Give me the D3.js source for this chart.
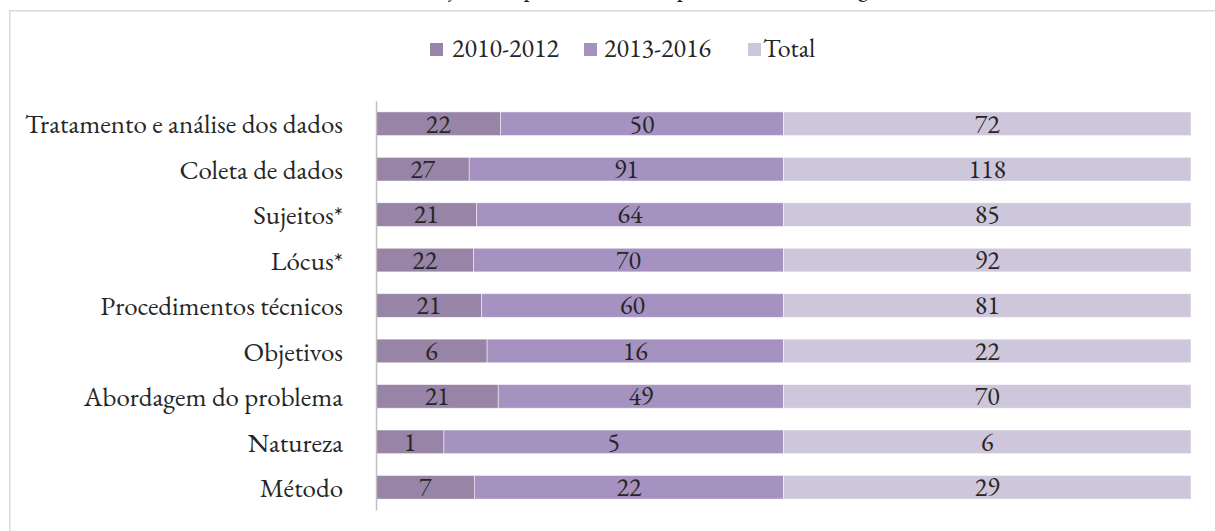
<!DOCTYPE html>
<html>
<head>
<meta charset="utf-8">
<script src="https://cdn.jsdelivr.net/npm/d3@7"></script>
<style>
  html, body { margin: 0; padding: 0; background: #fff; }
  svg { display: block; }
  text { font-family: "EB Garamond", Garamond, "Liberation Serif", "DejaVu Serif", serif; fill: #262626; }
</style>
</head>
<body>
<div id="chart"></div>
<script>
const WIDTH = 1215;
const HEIGHT = 531;

const categories = [
  "Tratamento e análise dos dados",
  "Coleta de dados",
  "Sujeitos*",
  "Lócus*",
  "Procedimentos técnicos",
  "Objetivos",
  "Abordagem do problema",
  "Natureza",
  "Método"
];
const seriesNames = ["2010-2012", "2013-2016", "Total"];
const values2010 = [22, 27, 21, 22, 21, 6, 21, 1, 7];
const values2013 = [50, 91, 64, 70, 60, 16, 49, 5, 22];
const valuesTotal = [72, 118, 85, 92, 81, 22, 70, 6, 29];
const colors = ["#9784a7", "#a592c1", "#cec6da"];

const titleText = "Descrição dos procedimentos por eixo metodológico";

const rows = categories.map((name, i) => ({
  name,
  "2010-2012": values2010[i],
  "2013-2016": values2013[i],
  "Total": valuesTotal[i]
}));

const svg = d3.select("#chart")
  .append("svg")
  .attr("width", WIDTH)
  .attr("height", HEIGHT);

// outer frame (runs past the right and bottom edges)
svg.append("rect")
  .attr("x", 9.75)
  .attr("y", 10.75)
  .attr("width", 1250)
  .attr("height", 600)
  .attr("fill", "none")
  .attr("stroke", "#d9d9d9")
  .attr("stroke-width", 1.5);

// title, mostly cut off above the frame
svg.append("text")
  .attr("x", 640)
  .attr("y", -6)
  .attr("text-anchor", "middle")
  .attr("font-size", 26)
  .text(titleText);

const x = d3.scaleLinear().domain([0, 1]).range([376, 1191]);
const y = d3.scaleBand()
  .domain(categories)
  .range([101, 510])
  .paddingInner(0.48)
  .paddingOuter(0.24);

const stack = d3.stack()
  .keys(seriesNames)
  .offset(d3.stackOffsetExpand);
const stacked = stack(rows);

const layers = svg.append("g")
  .selectAll("g")
  .data(stacked)
  .join("g")
  .attr("fill", (d, i) => colors[i]);

layers.selectAll("rect")
  .data((d) => d)
  .join("rect")
  .attr("x", (d) => x(d[0]))
  .attr("y", (d) => y(d.data.name))
  .attr("width", (d) => x(d[1]) - x(d[0]))
  .attr("height", y.bandwidth())
  .attr("stroke", "#ffffff")
  .attr("stroke-opacity", 0.6)
  .attr("stroke-width", 0.8);

layers.selectAll("text")
  .data((d) => d.map((p) => ({ p, key: d.key })))
  .join("text")
  .attr("x", (d) => (x(d.p[0]) + x(d.p[1])) / 2)
  .attr("y", (d) => y(d.p.data.name) + y.bandwidth() / 2)
  .attr("dy", "0.34em")
  .attr("text-anchor", "middle")
  .attr("font-size", 26)
  .text((d) => d.p.data[d.key]);

// category axis
const axis = svg.append("g")
  .attr("transform", `translate(${x(0)},0)`)
  .call(d3.axisLeft(y).tickSize(0).tickSizeOuter(0).tickPadding(33));

axis.select(".domain")
  .attr("stroke", "#bfbfbf")
  .attr("stroke-width", 1.5);

axis.selectAll(".tick text")
  .attr("font-family", null)
  .attr("font-size", 27)
  .attr("dy", "0.36em")
  .style("fill", "#262626");

// legend
const legendItems = [
  { name: seriesNames[0], x: 430, gap: 22 },
  { name: seriesNames[1], x: 584, gap: 20 },
  { name: seriesNames[2], x: 748, gap: 15 }
];

const legend = svg.append("g")
  .selectAll("g")
  .data(legendItems)
  .join("g")
  .attr("transform", (d) => `translate(${d.x},0)`);

legend.append("rect")
  .attr("x", 0)
  .attr("y", 43)
  .attr("width", 13)
  .attr("height", 13)
  .attr("fill", (d, i) => colors[i]);

legend.append("text")
  .attr("x", (d) => d.gap)
  .attr("y", 57)
  .attr("font-size", 26)
  .text((d) => d.name);
</script>
</body>
</html>
